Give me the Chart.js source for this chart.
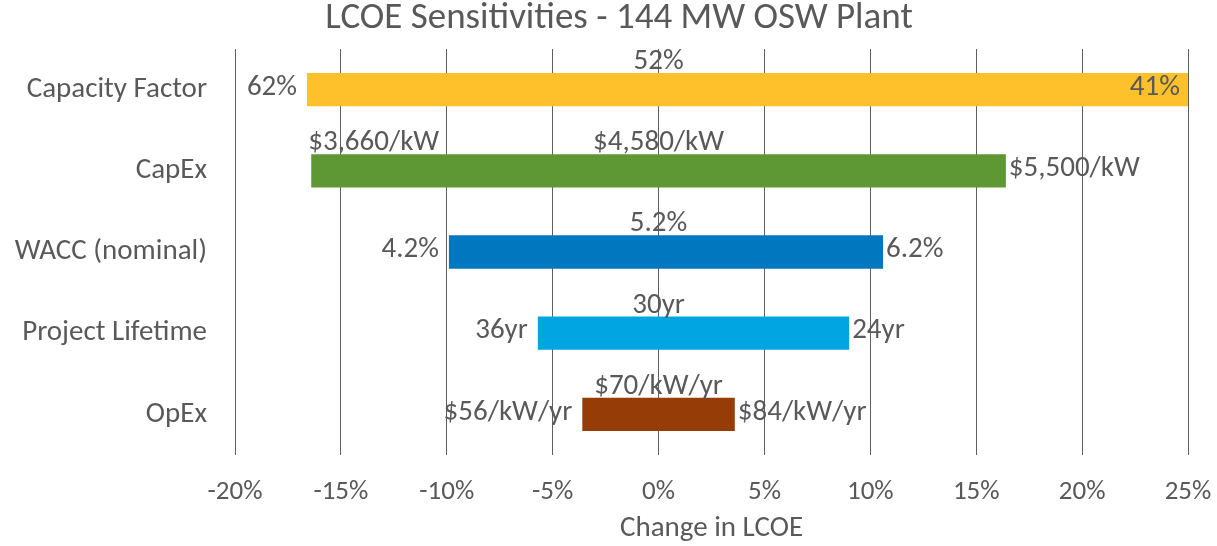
<!DOCTYPE html>
<html>
<head>
<meta charset="utf-8">
<script src="https://cdn.jsdelivr.net/npm/chart.js@4"></script>
<style>
  html, body { margin: 0; padding: 0; background: #fff; }
  #wrap { width: 1217px; height: 546px; }
</style>
</head>
<body>
<div id="wrap"><canvas id="tornado"></canvas></div>
<script>
// --- data ---
const categories = ['Capacity Factor', 'CapEx', 'WACC (nominal)', 'Project Lifetime', 'OpEx'];
const lowChange = [-16.6, -16.4, -9.9, -5.7, -3.6];   // % change in LCOE at the favourable input
const highChange = [25.0, 16.4, 10.6, 9.0, 3.6];      // % change in LCOE at the unfavourable input
const lowLabels = ['62%', '$3,660/kW', '4.2%', '36yr', '$56/kW/yr'];
const baseLabels = ['52%', '$4,580/kW', '5.2%', '30yr', '$70/kW/yr'];
const highLabels = ['41%', '$5,500/kW', '6.2%', '24yr', '$84/kW/yr'];
const barColors = ['#FFC12B', '#5E9834', '#0077BF', '#00A5E2', '#963C07'];
const xTicks = [-20, -15, -10, -5, 0, 5, 10, 15, 20, 25];

const FONT = 'Carlito, "Open Sans", sans-serif';
const GREY = '#595959';

// draws the three input values around each bar
const valueLabels = {
    id: 'valueLabels',
    afterLayout(chart) {
        // centre the title a bit further right, as in the original
        const t = chart.titleBlock;
        if (t) {
            t.left = 50;
            t.width = t.right - t.left;
        }
    },
    afterDatasetsDraw(chart) {
        const ctx = chart.ctx;
        const xs = chart.scales.x;
        const meta = chart.getDatasetMeta(0);
        ctx.save();
        ctx.font = '29px ' + FONT;
        ctx.fillStyle = GREY;
        meta.data.forEach((bar, i) => {
            const y = bar.y;
            const top = y - bar.height / 2;
            const left = xs.getPixelForValue(lowChange[i]);
            const right = xs.getPixelForValue(highChange[i]);

            // base case, above the bar at 0%
            ctx.textAlign = 'center';
            ctx.textBaseline = 'alphabetic';
            ctx.fillText(baseLabels[i], xs.getPixelForValue(0), top - 4);

            // low side: outside left, or above the bar if it would not fit
            const wLow = ctx.measureText(lowLabels[i]).width;
            if (left - 10 - wLow < xs.left) {
                ctx.textAlign = 'left';
                ctx.textBaseline = 'alphabetic';
                ctx.fillText(lowLabels[i], left - 3, top - 4);
            } else {
                ctx.textAlign = 'right';
                ctx.textBaseline = 'middle';
                ctx.fillText(lowLabels[i], left - 10, y - 2);
            }

            // high side: outside right, or inside when the bar hits the axis end
            ctx.textBaseline = 'middle';
            if (highChange[i] >= xs.max) {
                ctx.textAlign = 'right';
                ctx.fillText(highLabels[i], right - 8, y - 2);
            } else {
                ctx.textAlign = 'left';
                ctx.fillText(highLabels[i], right + 3, y - 2);
            }
        });
        ctx.restore();
    }
};

function drawChart() {
    new Chart(document.getElementById('tornado'), {
        type: 'bar',
        data: {
            labels: categories,
            datasets: [{
                data: categories.map((c, i) => [lowChange[i], highChange[i]]),
                backgroundColor: barColors,
                borderWidth: 0,
                categoryPercentage: 1,
                barPercentage: 0.41
            }]
        },
        options: {
            indexAxis: 'y',
            responsive: true,
            maintainAspectRatio: false,
            animation: false,
            layout: { padding: { left: 0, right: 29, top: 0, bottom: 0 } },
            plugins: {
                legend: { display: false },
                tooltip: { enabled: false },
                title: {
                    display: true,
                    text: 'LCOE Sensitivities - 144 MW OSW Plant',
                    color: GREY,
                    font: { family: FONT, size: 37, weight: 'normal', lineHeight: 1.0 },
                    padding: { top: 0, bottom: 12 }
                }
            },
            scales: {
                x: {
                    min: xTicks[0],
                    max: xTicks[xTicks.length - 1],
                    afterBuildTicks: (axis) => { axis.ticks = xTicks.map(v => ({ value: v })); },
                    afterFit: (axis) => {
                        axis.height = 91;
                        axis.paddingLeft = 0;
                        axis.paddingRight = 0;
                    },
                    grid: { color: '#5f5f5f', lineWidth: 1, drawTicks: false },
                    border: { display: false },
                    ticks: {
                        color: GREY,
                        padding: 21,
                        maxRotation: 0,
                        font: { family: FONT, size: 27 },
                        callback: (v) => v + '%'
                    },
                    title: {
                        display: true,
                        text: 'Change in LCOE',
                        color: GREY,
                        font: { family: FONT, size: 29 },
                        padding: { top: 2, bottom: 0 }
                    }
                },
                y: {
                    afterFit: (axis) => { axis.width = 235; },
                    grid: { display: false, drawTicks: false },
                    border: { display: false },
                    ticks: {
                        color: GREY,
                        padding: 28,
                        font: { family: FONT, size: 29 }
                    }
                }
            }
        },
        plugins: [valueLabels]
    });
}

if (document.fonts && document.fonts.load) {
    Promise.all([
        document.fonts.load('29px Carlito'),
        document.fonts.load('37px Carlito')
    ]).then(drawChart, drawChart);
} else {
    drawChart();
}
</script>
</body>
</html>
